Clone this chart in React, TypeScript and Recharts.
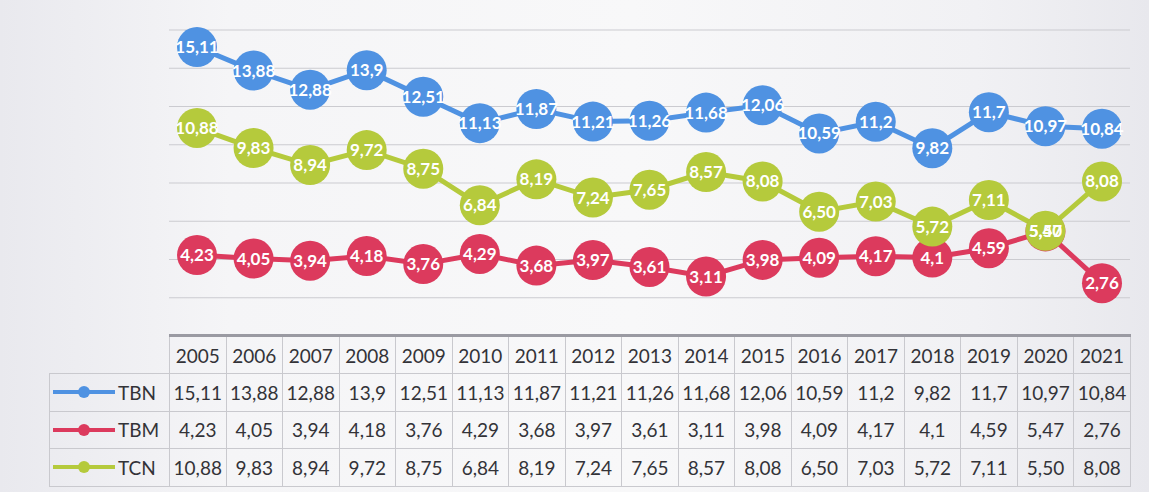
import React from "react"
import { LineChart, Line, XAxis, YAxis, CartesianGrid, LabelList } from "recharts"

const years = ["2005", "2006", "2007", "2008", "2009", "2010", "2011", "2012", "2013", "2014", "2015", "2016", "2017", "2018", "2019", "2020", "2021"]
const tbn = ["15,11", "13,88", "12,88", "13,9", "12,51", "11,13", "11,87", "11,21", "11,26", "11,68", "12,06", "10,59", "11,2", "9,82", "11,7", "10,97", "10,84"]
const tbm = ["4,23", "4,05", "3,94", "4,18", "3,76", "4,29", "3,68", "3,97", "3,61", "3,11", "3,98", "4,09", "4,17", "4,1", "4,59", "5,47", "2,76"]
const tcn = ["10,88", "9,83", "8,94", "9,72", "8,75", "6,84", "8,19", "7,24", "7,65", "8,57", "8,08", "6,50", "7,03", "5,72", "7,11", "5,50", "8,08"]
const yTicks = [0, 2, 4, 6, 8, 10, 12, 14, 16]

const num = (s: string) => parseFloat(s.replace(",", "."))

const data = years.map((y, i) => ({
  year: y,
  TBN: num(tbn[i]),
  TBM: num(tbm[i]),
  TCN: num(tcn[i]),
  TBNl: tbn[i],
  TBMl: tbm[i],
  TCNl: tcn[i],
}))

const series = [
  { key: "TBN", color: "#4f92e2", values: tbn },
  { key: "TBM", color: "#dc3a5d", values: tbm },
  { key: "TCN", color: "#b5ca3c", values: tcn },
]

const font = "Lato, 'Open Sans', sans-serif"

const renderLabel = (p: any) => {
  const x = p.x ?? p.viewBox?.x
  const y = p.y ?? p.viewBox?.y
  return (
    <text x={x} y={y} dy={6} textAnchor="middle" fill="#ffffff" fontSize={17} fontWeight="bold" fontFamily={font}>
      {p.value}
    </text>
  )
}

const cell: React.CSSProperties = {
  border: "1px solid #c9c9ce",
  textAlign: "center",
  padding: 0,
  whiteSpace: "nowrap",
  overflow: "visible",
}

export default function App() {
  return (
    <div
      style={{
        position: "fixed",
        left: 0,
        top: 0,
        width: 1149,
        height: 492,
        background: "linear-gradient(90deg, #e9e9ee 0%, #f5f5f7 20%, #f8f8f9 55%, #f1f1f4 85%, #e8e8ed 100%)",
        fontFamily: font,
      }}
    >
      <LineChart width={1149} height={336} data={data} margin={{ top: 30, right: 19, left: 169, bottom: 0 }}>
        <CartesianGrid vertical={false} stroke="#cbcbd0" />
        <XAxis dataKey="year" hide padding={{ left: 28, right: 28 }} />
        <YAxis hide domain={[0, 16]} ticks={yTicks} />
        {series.map((s) => (
          <Line
            key={s.key}
            dataKey={s.key}
            type="linear"
            stroke={s.color}
            strokeWidth={5}
            dot={{ r: 20, fill: s.color, stroke: "none" }}
            activeDot={false}
            isAnimationActive={false}
          >
            <LabelList dataKey={s.key + "l"} content={renderLabel} />
          </Line>
        ))}
      </LineChart>
      <table
        style={{
          position: "absolute",
          left: 49,
          top: 334,
          width: 1081,
          borderCollapse: "collapse",
          tableLayout: "fixed",
          fontSize: 19,
          color: "#333338",
          fontFamily: font,
        }}
      >
        <colgroup>
          <col style={{ width: 120 }} />
          {years.map((y) => (
            <col key={y} style={{ width: 961 / 17 }} />
          ))}
        </colgroup>
        <tbody>
          <tr style={{ height: 38 }}>
            <td style={{ padding: 0 }} />
            {years.map((y) => (
              <td key={y} style={{ ...cell, borderTop: "3px solid #9a9aa2" }}>
                {y}
              </td>
            ))}
          </tr>
          {series.map((s) => (
            <tr key={s.key} style={{ height: 37.5 }}>
              <td style={{ ...cell, textAlign: "left" }}>
                <div style={{ display: "flex", alignItems: "center" }}>
                  <svg width={66} height={16} style={{ marginLeft: 2 }}>
                    <line x1={1} y1={8} x2={63} y2={8} stroke={s.color} strokeWidth={4} />
                    <circle cx={32} cy={8} r={6} fill={s.color} />
                  </svg>
                  <span>{s.key}</span>
                </div>
              </td>
              {s.values.map((v, i) => (
                <td key={i} style={cell}>
                  {v}
                </td>
              ))}
            </tr>
          ))}
        </tbody>
      </table>
    </div>
  )
}
